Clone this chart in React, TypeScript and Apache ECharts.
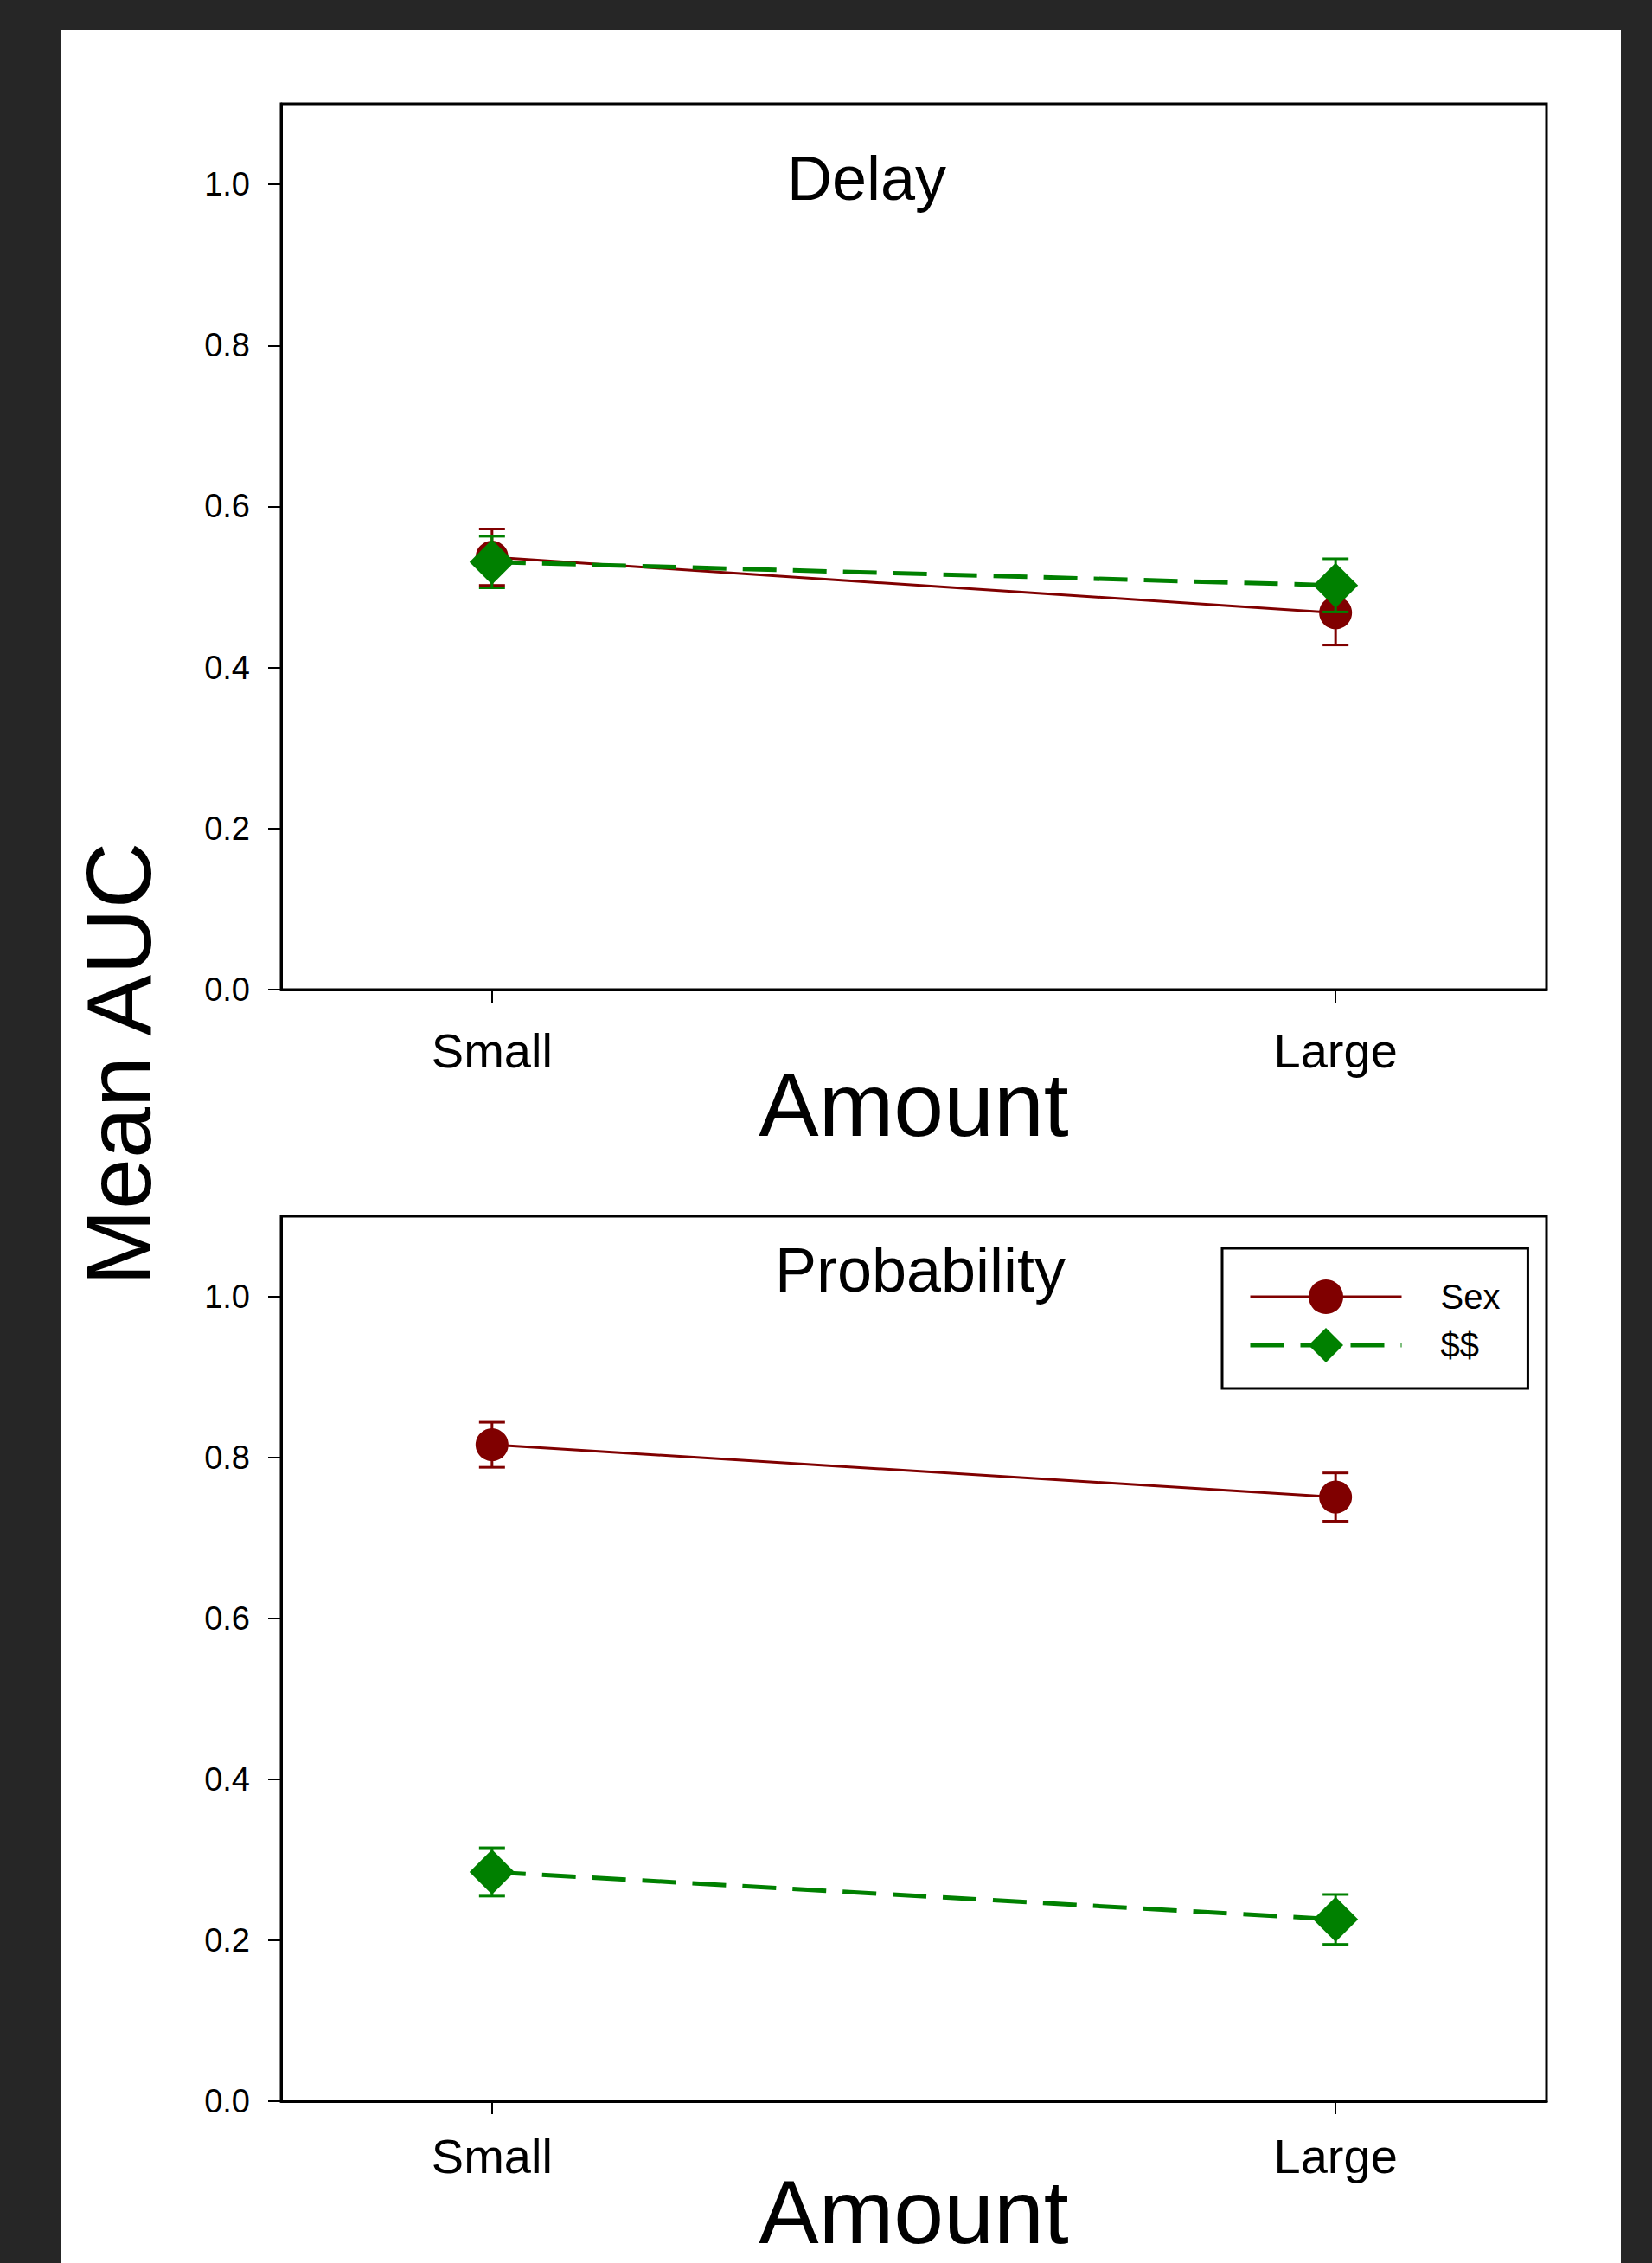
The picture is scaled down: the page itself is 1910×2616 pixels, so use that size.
import React, { useEffect, useRef } from 'react';
import * as echarts from 'echarts';

// ---------------- data ----------------
const categories = ['Small', 'Large'];
const panelTitles = ['Delay', 'Probability'];
const seriesNames = ['Sex', '$$'];
const yTickValues = [0, 0.2, 0.4, 0.6, 0.8, 1.0];
const axisTitleX = 'Amount';
const axisTitleY = 'Mean AUC';

// Delay panel
const delaySexMean = [0.537, 0.468];
const delaySexErr = [0.035, 0.04];
const delayMoneyMean = [0.531, 0.502];
const delayMoneyErr = [0.032, 0.033];

// Probability panel
const probSexMean = [0.816, 0.751];
const probSexErr = [0.028, 0.03];
const probMoneyMean = [0.285, 0.226];
const probMoneyErr = [0.03, 0.031];

const FONT = '"Liberation Sans", Arial, Helvetica, sans-serif';
const SEX_COLOR = '#800000';
const MONEY_COLOR = '#008000';

function errSeries(name: string, means: number[], errs: number[], color: string, gi: number, z: number) {
  return {
    type: 'custom',
    name,
    xAxisIndex: gi,
    yAxisIndex: gi,
    z,
    silent: true,
    data: means.map((m, i) => [i, m - errs[i], m + errs[i]]),
    encode: { x: 0, y: [1, 2] },
    renderItem: (params: any, api: any) => {
      const x = api.value(0);
      const lo = api.value(1);
      const hi = api.value(2);
      const top = api.coord([x, hi]);
      const bot = api.coord([x, lo]);
      const hw = 15;
      const st = { stroke: color, lineWidth: 3 };
      return {
        type: 'group',
        children: [
          { type: 'line', shape: { x1: top[0], y1: top[1], x2: bot[0], y2: bot[1] }, style: st },
          { type: 'line', shape: { x1: top[0] - hw, y1: top[1], x2: top[0] + hw, y2: top[1] }, style: st },
          { type: 'line', shape: { x1: bot[0] - hw, y1: bot[1], x2: bot[0] + hw, y2: bot[1] }, style: st },
        ],
      };
    },
  };
}

function sexLine(means: number[], gi: number, z: number) {
  return {
    type: 'line',
    name: seriesNames[0],
    xAxisIndex: gi,
    yAxisIndex: gi,
    z,
    data: means.map((m, i) => [i, m]),
    symbol: 'circle',
    symbolSize: 38,
    itemStyle: { color: SEX_COLOR },
    lineStyle: { color: SEX_COLOR, width: 3 },
  };
}

function moneyLine(means: number[], gi: number, z: number) {
  return {
    type: 'line',
    name: seriesNames[1],
    xAxisIndex: gi,
    yAxisIndex: gi,
    z,
    data: means.map((m, i) => [i, m]),
    symbol: 'diamond',
    symbolSize: 52,
    itemStyle: { color: MONEY_COLOR },
    lineStyle: { color: MONEY_COLOR, width: 5, type: [39, 19] },
  };
}

function xAxis(gi: number, labelMargin: number, nameGap: number) {
  return {
    type: 'value',
    gridIndex: gi,
    min: -0.25,
    max: 1.25,
    axisLine: { show: true, onZero: false, lineStyle: { color: '#000', width: 3 } },
    axisTick: { show: true, inside: false, length: 15, lineStyle: { color: '#000', width: 2 }, customValues: [0, 1] },
    axisLabel: {
      customValues: [0, 1],
      formatter: (v: number) => categories[Math.round(v)] ?? '',
      fontSize: 56,
      fontFamily: FONT,
      color: '#000',
      margin: labelMargin,
    },
    splitLine: { show: false },
    name: axisTitleX,
    nameLocation: 'middle',
    nameGap,
    nameMoveOverlap: false,
    nameTextStyle: { fontSize: 104, fontFamily: FONT, color: '#000' },
  };
}

function yAxis(gi: number) {
  return {
    type: 'value',
    gridIndex: gi,
    min: 0,
    max: 1.1,
    interval: 0.2,
    axisLine: { show: true, onZero: false, lineStyle: { color: '#000', width: 3 } },
    axisTick: { show: true, inside: false, length: 15, lineStyle: { color: '#000', width: 2 }, customValues: yTickValues },
    axisLabel: {
      customValues: yTickValues,
      formatter: (v: number) => v.toFixed(1),
      fontSize: 38,
      fontFamily: FONT,
      color: '#000',
      margin: 36,
    },
    splitLine: { show: false },
  };
}

function textEl(text: string, x: number, y: number, size: number, rotation = 0) {
  return {
    type: 'text',
    x,
    y,
    rotation,
    style: {
      text,
      fontSize: size,
      fontFamily: FONT,
      fill: '#000',
      align: 'center',
      verticalAlign: 'middle',
      textAlign: 'center',
      textVerticalAlign: 'middle',
    },
  };
}

export default function App() {
  const ref = useRef<HTMLDivElement>(null);

  useEffect(() => {
    document.body.style.margin = '0';
    if (!ref.current) return;
    const chart = echarts.init(ref.current, undefined, { renderer: 'svg' });
    const gridBase = {
      show: true,
      borderColor: '#000',
      borderWidth: 3,
      backgroundColor: 'transparent',
      containLabel: false,
      outerBoundsMode: 'none',
    };
    chart.setOption({
      animation: false,
      backgroundColor: 'transparent',
      grid: [
        { ...gridBase, left: 325, top: 120, width: 1463, height: 1024 },
        { ...gridBase, left: 325, top: 1406, width: 1463, height: 1023 },
      ],
      xAxis: [xAxis(0, 42, 81), xAxis(1, 35, 76)],
      yAxis: [yAxis(0), yAxis(1)],
      legend: {
        data: [{ name: seriesNames[0] }, { name: seriesNames[1] }],
        orient: 'vertical',
        left: 1413,
        top: 1443,
        padding: [36, 32, 30, 30],
        borderColor: '#000',
        borderWidth: 3,
        borderRadius: 0,
        backgroundColor: '#fff',
        itemWidth: 175,
        itemHeight: 50,
        itemGap: 16,
        selectedMode: false,
        lineStyle: { width: 'inherit' },
        textStyle: { fontSize: 40, fontFamily: FONT, color: '#000', padding: [0, 0, 0, 40] },
      },
      graphic: [
        textEl(panelTitles[0], 1002, 206, 72),
        textEl(panelTitles[1], 1064, 1468, 72),
        textEl(axisTitleY, 137, 1230, 106, Math.PI / 2),
      ],
      series: [
        errSeries('Sex err delay', delaySexMean, delaySexErr, SEX_COLOR, 0, 1),
        sexLine(delaySexMean, 0, 2),
        errSeries('$$ err delay', delayMoneyMean, delayMoneyErr, MONEY_COLOR, 0, 3),
        moneyLine(delayMoneyMean, 0, 4),
        errSeries('Sex err prob', probSexMean, probSexErr, SEX_COLOR, 1, 1),
        sexLine(probSexMean, 1, 2),
        errSeries('$$ err prob', probMoneyMean, probMoneyErr, MONEY_COLOR, 1, 3),
        moneyLine(probMoneyMean, 1, 4),
      ],
    });
    return () => chart.dispose();
  }, []);

  return (
    <div style={{ position: 'absolute', left: 0, top: 0, width: 1910, height: 2616, background: '#262626', overflow: 'hidden' }}>
      <div style={{ position: 'absolute', left: 71, top: 35, width: 1803, height: 2581, background: '#ffffff' }} />
      <div ref={ref} style={{ position: 'absolute', left: 0, top: 0, width: 1910, height: 2616 }} />
    </div>
  );
}
